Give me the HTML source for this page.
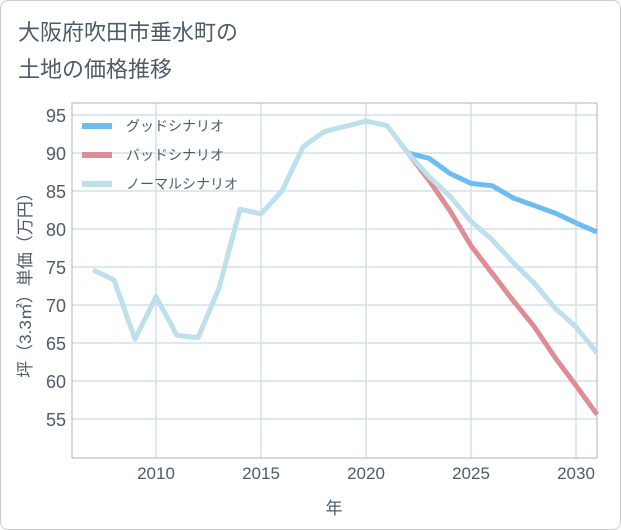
<!DOCTYPE html>
<html><head><meta charset="utf-8"><style>
body{margin:0;background:#fff;font-family:"Liberation Sans","Noto Sans CJK JP",sans-serif;}
#wrap{position:relative;width:619px;height:528px;border:1px solid #ccc;border-radius:8px;overflow:hidden;background:#fff}
</style></head><body>
<div id="wrap">
<svg id="c" width="621" height="530" style="position:absolute;left:-1px;top:-1px"></svg>
</div>
<script>
const years=[2007,2008,2009,2010,2011,2012,2013,2014,2015,2016,2017,2018,2019,2020,2021,2022,2023,2024,2025,2026,2027,2028,2029,2030,2031];
const normal=[74.6,73.3,65.5,71.1,66.0,65.7,72.2,82.6,82.0,85.0,90.8,92.8,93.5,94.2,93.6,90.0,86.9,84.3,81.0,78.6,75.6,72.9,69.6,67.1,63.7];
const futureYears=[2022,2023,2024,2025,2026,2027,2028,2029,2030,2031];
const good=[90.0,89.3,87.3,86.0,85.7,84.1,83.1,82.1,80.8,79.6];
const bad=[90.0,86.4,82.4,77.8,74.2,70.6,67.2,63.1,59.4,55.6];
const yTicks=[55,60,65,70,75,80,85,90,95];
const xTicks=[2010,2015,2020,2025,2030];
const L=72,R=597,T=103,B=458;
const X=y=>L+(y-2006)*(R-L)/25;
const Y=v=>115+(95-v)*7.6;
const TC='#4e5b69';
const s=document.getElementById('c');const NS='http://www.w3.org/2000/svg';
function el(t,a,txt){const e=document.createElementNS(NS,t);for(const k in a)e.setAttribute(k,a[k]);if(txt!=null)e.textContent=txt;s.appendChild(e);return e;}
let e;
e=el('text',{x:18,y:40,'font-size':22,fill:TC},'大阪府吹田市垂水町の');


e=el('text',{x:18,y:77,'font-size':22,fill:TC},'土地の価格推移');


yTicks.forEach(v=>{
e=el('line',{x1:L,x2:R,y1:Y(v),y2:Y(v),stroke:'#d3e0ea','stroke-width':1.5});


e=el('text',{x:L-6,y:Y(v)+7,'font-size':18,fill:TC,'text-anchor':'end'},v);


});
xTicks.forEach(v=>{
e=el('line',{x1:X(v),x2:X(v),y1:T,y2:B,stroke:'#d3e0ea','stroke-width':1.5});


e=el('text',{x:X(v),y:B+21,'font-size':17,fill:TC,'text-anchor':'middle'},v);


});
e=el('rect',{x:L,y:T,width:R-L,height:B-T,fill:'none',stroke:'#aab4bd','stroke-width':1});


function line(xs,vs,c,name){
e=el('polyline',{points:xs.map((y,i)=>X(y)+','+Y(vs[i])).join(' '),fill:'none',stroke:c,'stroke-width':5,'stroke-linejoin':'round'});


}
line(futureYears,good,'#6cbdf3','good-scenario-line');
line(futureYears,bad,'#e08c94','bad-scenario-line');
line(years,normal,'#bde0ec','normal-scenario-line');
const leg=[['グッドシナリオ','#6cbdf3'],['バッドシナリオ','#e08c94'],['ノーマルシナリオ','#bde0ec']];
leg.forEach((l,i)=>{
const y=126+i*29;
e=el('rect',{x:82,y:y-3,width:30,height:6,fill:l[1]});


e=el('text',{x:126,y:y+5,'font-size':14,fill:TC},l[0]);


});
e=el('text',{x:0,y:0,'font-size':17,fill:TC,'text-anchor':'middle',transform:'translate(31,281) rotate(-90)'},'坪（3.3㎡）単価（万円）');


e=el('text',{x:334,y:514,'font-size':17,fill:TC,'text-anchor':'middle'},'年');


</script>
</body></html>
